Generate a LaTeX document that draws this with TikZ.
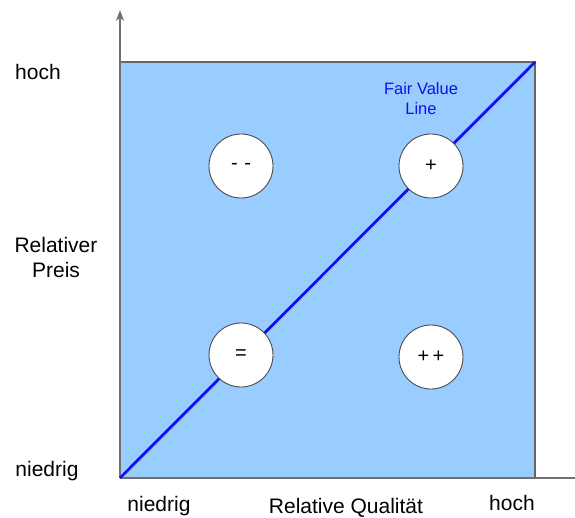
\documentclass[tikz,border=0pt]{standalone}
\usepackage{fontspec}
\setmainfont{Liberation Sans}
\usetikzlibrary{arrows.meta}
\definecolor{fillblue}{HTML}{99CCFF}
\definecolor{lineblue}{HTML}{1010F0}
\definecolor{axisgray}{HTML}{707070}
\tikzset{
  lbl/.style={font=\fontsize{21}{25}\selectfont, text=black, inner sep=0pt, anchor=base, align=center},
  sign/.style={circle, draw=black!70, fill=white, line width=0.9pt, minimum size=64pt, inner sep=0pt, font=\fontsize{20}{24}\selectfont},
  axis/.style={draw=axisgray, line width=1.8pt},
}
\begin{document}
\begin{tikzpicture}[x=1pt, y=-1pt]
\useasboundingbox (0,0) rectangle (575,518);
% field
\coordinate (bl) at (120,478);
\coordinate (tr) at (535,62);
\fill[fillblue] (bl) rectangle (tr);
\draw[draw=black!60, line width=1.2pt] (bl |- tr) -- (tr) -- (tr |- bl);
% axes
\coordinate (ytop) at (120,10);
\coordinate (xend) at (575,478);
\draw[axis] (bl) -- (xend);
\draw[axis, -{Stealth[length=11pt, width=8pt]}] (bl) -- (ytop);
% fair value line
\draw[lineblue, line width=2.8pt] (bl) -- (tr);
\node[font=\fontsize{16.5}{20}\selectfont, text=lineblue, align=center, anchor=base, inner sep=0pt] (fv) at (421,115) {Fair Value\\Line};
% circles
\node[sign] (mm) at (241,166) {-\,\,-};
\node[sign] (p) at (431,166) {+};
\node[sign] (eq) at (241,355) {=};
\node[sign] (pp) at (431,357) {+\,+};
% labels
\node[lbl] (yh) at (38,80) {hoch};
\node[lbl] (yrp) at (56,278) {Relativer\\Preis};
\node[lbl] (yn) at (47,476) {niedrig};
\node[lbl] (xn) at (159,511) {niedrig};
\node[lbl] (xrq) at (346,513) {Relative Qualität};
\node[lbl] (xh) at (512,510) {hoch};
\end{tikzpicture}
\end{document}
